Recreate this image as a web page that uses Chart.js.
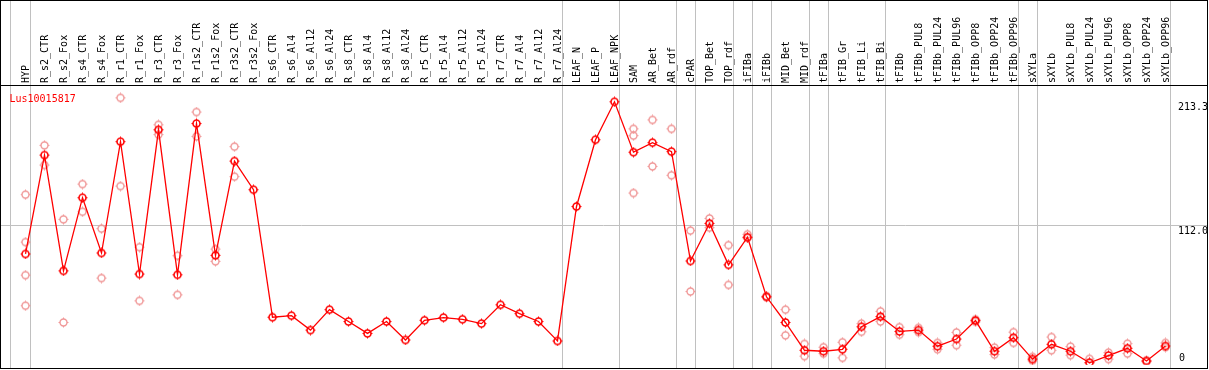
<!DOCTYPE html>
<html>
<head>
<meta charset="utf-8">
<script src="https://cdn.jsdelivr.net/npm/chart.js@4.4.1/dist/chart.umd.min.js"></script>
<style>
  body { margin: 0; background: #fff; }
  #wrap { width: 1209px; height: 370px; }
</style>
</head>
<body>
<div id="wrap"><canvas id="probeChart" width="1209" height="370"></canvas></div>
<script>
// Data
const categories = [
  'HYP', 'R_s2_CTR', 'R_s2_Fox', 'R_s4_CTR', 'R_s4_Fox', 'R_r1_CTR', 'R_r1_Fox',
  'R_r3_CTR', 'R_r3_Fox', 'R_r1s2_CTR', 'R_r1s2_Fox', 'R_r3s2_CTR', 'R_r3s2_Fox',
  'R_s6_CTR', 'R_s6_Al4', 'R_s6_Al12', 'R_s6_Al24', 'R_s8_CTR', 'R_s8_Al4',
  'R_s8_Al12', 'R_s8_Al24', 'R_r5_CTR', 'R_r5_Al4', 'R_r5_Al12', 'R_r5_Al24',
  'R_r7_CTR', 'R_r7_Al4', 'R_r7_Al12', 'R_r7_Al24', 'LEAF_N', 'LEAF_P', 'LEAF_NPK',
  'SAM', 'AR_Bet', 'AR_rdf', 'cPAR', 'TOP_Bet', 'TOP_rdf', 'iFIBa', 'iFIBb',
  'MID_Bet', 'MID_rdf', 'tFIBa', 'tFIB_Gr', 'tFIB_Li', 'tFIB_Bi', 'tFIBb',
  'tFIBb_PUL8', 'tFIBb_PUL24', 'tFIBb_PUL96', 'tFIBb_OPP8', 'tFIBb_OPP24', 'tFIBb_OPP96',
  'sXYLa', 'sXYLb', 'sXYLb_PUL8', 'sXYLb_PUL24', 'sXYLb_PUL96', 'sXYLb_OPP8',
  'sXYLb_OPP24', 'sXYLb_OPP96'
];

// mean expression (red line)
const meanValues = [
  88.9, 169.7, 75.1, 134.9, 89.7, 180.7, 72.5, 190.4, 71.9, 195.5, 87.8, 164.8, 141.4,
  37.2, 38.5, 26.7, 43.4, 33.7, 24.0, 33.7, 18.6, 34.7, 36.9, 35.5, 32.0,
  47.4, 40.1, 33.7, 17.8, 127.7, 182.3, 213.3,
  172.1, 179.9, 172.6, 83.2, 113.9, 80.0, 102.6, 53.9,
  32.9, 10.2, 9.4, 11.0, 29.4, 37.7, 25.6,
  26.7, 13.5, 19.4, 34.5, 9.4, 20.5,
  3.0, 15.1, 9.4, 0.0, 5.9, 11.8, 1.4, 13.7
];

// replicates (pink circles), null where there is none
const rep1 = [
  137.4, 177.7, 117.2, 146.0, 109.6, 216.5, 94.5, 194.5, 87.5, 204.9, 92.9, 176.6, null,
  null, null, null, null, null, null, null, null, null, null, null, null,
  null, null, null, null, null, null, null,
  191.2, 198.5, 191.2, 108.0, 118.0, 96.1, 105.0, 54.5,
  43.4, 15.4, 12.7, 16.7, 32.0, 42.0, 29.1,
  28.5, 16.2, 24.8, 35.5, 12.4, 25.0,
  4.8, 21.0, 13.2, 3.2, 8.3, 15.6, 2.0, 16.2
];
const rep2 = [
  98.6, 161.6, 32.9, 123.4, 69.2, 144.4, 50.6, 186.5, 55.5, 185.0, 82.9, 152.1, null,
  null, null, null, null, null, null, null, null, null, null, null, null,
  null, null, null, null, null, null, null,
  185.6, 160.5, 153.2, 58.2, 110.4, 63.6, 102.0, 53.5,
  22.4, 5.4, 7.5, 4.0, 25.3, 33.7, 22.9,
  25.0, 11.0, 14.3, 33.5, 6.7, 16.2,
  1.6, 10.2, 6.2, 0.0, 3.0, 7.5, 0.8, 12.7
];
const rep3 = categories.map(() => null);
rep3[0] = 71.6;
rep3[32] = 138.7;
const rep4 = categories.map(() => null);
rep4[0] = 46.6;

const probeName = 'Lus10015817';
const axisLabels = [213.3, 112.0, 0];
const gridValue = 112.0;
// columns that are followed by a grey separator
const groupEnds = [0, 28, 31, 34, 35, 37, 38, 39, 41, 42, 45, 52, 53, 60];

// little ring marker with four short ticks
function ring(color, lw) {
  const c = document.createElement('canvas');
  c.width = 11;
  c.height = 11;
  const g = c.getContext('2d');
  g.strokeStyle = color;
  g.lineWidth = lw;
  g.beginPath();
  g.arc(5.5, 5.5, 3.5, 0, Math.PI * 2);
  g.stroke();
  g.lineWidth = 1;
  g.beginPath();
  g.moveTo(5.5, 0.5); g.lineTo(5.5, 2);
  g.moveTo(5.5, 9); g.lineTo(5.5, 10.5);
  g.moveTo(0.5, 5.5); g.lineTo(2, 5.5);
  g.moveTo(9, 5.5); g.lineTo(10.5, 5.5);
  g.stroke();
  return c;
}

const redRing = ring('#ff0000', 1.6);
const pinkRing = ring('#f09898', 1.4);

const mono = 'DejaVu Sans Mono';

// grey grid + separators behind everything, frame and texts on top
const framePlugin = {
  id: 'frame',
  beforeDraw(chart) {
    const { ctx, scales: { x, y } } = chart;
    const W = chart.width;
    ctx.save();
    ctx.strokeStyle = '#c0c0c0';
    ctx.lineWidth = 1;
    ctx.beginPath();
    const gy = Math.floor(y.getPixelForValue(gridValue)) + 0.5;
    ctx.moveTo(0, gy);
    ctx.lineTo(W - 2, gy);
    const x0 = x.getPixelForValue(0);
    ctx.moveTo(x0 - 15, 0);
    ctx.lineTo(x0 - 15, 368);
    groupEnds.forEach((i) => {
      const px = x.getPixelForValue(i) + 5;
      ctx.moveTo(px, 0);
      ctx.lineTo(px, 368);
    });
    ctx.stroke();
    ctx.restore();
  },
  beforeDatasetsDraw(chart) {
    const { ctx, scales: { y } } = chart;
    ctx.save();
    // black frame
    ctx.strokeStyle = '#000';
    ctx.lineWidth = 1;
    ctx.beginPath();
    ctx.moveTo(0, 0.5); ctx.lineTo(1208, 0.5);
    ctx.moveTo(0, 85.5); ctx.lineTo(1208, 85.5);
    ctx.moveTo(0, 368.5); ctx.lineTo(1208, 368.5);
    ctx.moveTo(0.5, 0); ctx.lineTo(0.5, 369);
    ctx.moveTo(1207.5, 0); ctx.lineTo(1207.5, 369);
    ctx.stroke();

    ctx.font = '10px "' + mono + '"';
    ctx.fillStyle = '#ff0000';
    ctx.textAlign = 'left';
    ctx.textBaseline = 'alphabetic';
    ctx.fillText(probeName, 9.5, 101.5);

    ctx.fillStyle = '#000';
    axisLabels.forEach((v) => {
      const py = y.getPixelForValue(v);
      const txt = v === 0 ? '0' : v.toFixed(1);
      if (v === 0) {
        ctx.textBaseline = 'alphabetic';
        ctx.fillText(txt, 1179, py - 1.5);
      } else {
        ctx.textBaseline = 'top';
        ctx.fillText(txt, 1178, py + 0.5);
      }
    });
    ctx.restore();
  }
};

const chart = new Chart(document.getElementById('probeChart'), {
  type: 'line',
  data: {
    labels: categories,
    datasets: [
      {
        data: meanValues,
        borderColor: '#ff0000',
        borderWidth: 1.3,
        pointStyle: redRing,
        tension: 0
      },
      { data: rep1, showLine: false, pointStyle: pinkRing },
      { data: rep2, showLine: false, pointStyle: pinkRing },
      { data: rep3, showLine: false, pointStyle: pinkRing },
      { data: rep4, showLine: false, pointStyle: pinkRing }
    ]
  },
  options: {
    responsive: false,
    animation: false,
    events: [],
    layout: { padding: { left: 25.5, right: 43.5, top: 0, bottom: 2 } },
    plugins: {
      legend: { display: false },
      tooltip: { enabled: false }
    },
    scales: {
      x: {
        position: 'top',
        offset: false,
        grid: { display: false, drawTicks: false },
        border: { display: false },
        afterFit: (scale) => { scale.height = 86; },
        ticks: {
          autoSkip: false,
          minRotation: 90,
          maxRotation: 90,
          padding: 3,
          labelOffset: 13,
          color: '#000',
          font: { family: mono, size: 10 }
        }
      },
      y: {
        display: false,
        min: -1.6,
        max: 226.2
      }
    }
  },
  plugins: [framePlugin]
});
</script>
</body>
</html>
